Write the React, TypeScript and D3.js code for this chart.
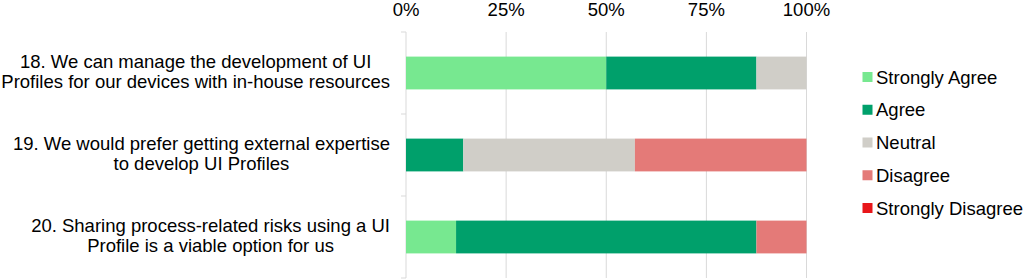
import React, { useMemo } from "react";
import * as d3 from "d3";

const questions: string[][] = [
  ["18. We can manage the development of UI", "Profiles for our devices with in-house resources"],
  ["19. We would prefer getting external expertise", "to develop UI Profiles"],
  ["20. Sharing process-related risks using a UI", "Profile is a viable option for us"],
];
const seriesNames = ["Strongly Agree", "Agree", "Neutral", "Disagree", "Strongly Disagree"];
const stronglyAgree = [50, 0, 12.5];
const agree = [37.5, 14.3, 75];
const neutral = [12.5, 42.85, 0];
const disagree = [0, 42.85, 12.5];
const stronglyDisagree = [0, 0, 0];
const tickValues = [0, 0.25, 0.5, 0.75, 1];
const colors = ["#77E890", "#00A06B", "#D0CEC8", "#E47A78", "#E8161A"];

const W = 1026;
const H = 280;
const FONT = "Arial, 'Liberation Sans', sans-serif";
const FS = 18.5;

function measure(text: string): number {
  const c = document.createElement("canvas");
  const ctx = c.getContext("2d")!;
  ctx.font = `${FS}px Arial, 'Liberation Sans', sans-serif`;
  return ctx.measureText(text).width;
}

export default function App() {
  const x = d3.scaleLinear().domain([0, 1]).range([406, 806.5]);
  const y = d3.scaleBand<number>().domain([0, 1, 2]).range([32, 278]).padding(0);
  const barH = y.bandwidth() * 0.4;

  const rows = questions.map((_, i) => {
    const vals = [stronglyAgree[i], agree[i], neutral[i], disagree[i], stronglyDisagree[i]];
    const total = d3.sum(vals);
    let acc = 0;
    return vals.map((v, k) => {
      const s = acc / total;
      acc += v;
      return { k, s, e: acc / total };
    });
  });

  const labelRight = 390;
  const widths = useMemo(() => questions.map((ls) => d3.max(ls, (l) => measure(l)) || 0), []);

  const legendY = d3.scalePoint<number>().domain([0, 1, 2, 3, 4]).range([77, 208]);

  return (
    <svg width={W} height={H} style={{ position: "absolute", left: 0, top: 0, background: "#fff" }} fontFamily={FONT}>
      {tickValues.map((t) => (
        <line key={t} x1={x(t)} x2={x(t)} y1={32} y2={278} stroke="#d9d9d9" strokeWidth={1} />
      ))}
      {[0, 1, 2, 3].map((i) => {
        const yy = i < 3 ? y(i)! : y(2)! + y.bandwidth();
        return <line key={i} x1={401} x2={406} y1={yy} y2={yy} stroke="#d9d9d9" />;
      })}
      {tickValues.map((t) => (
        <text key={t} x={x(t)} y={16} textAnchor="middle" fontSize={FS} fill="#000">
          {d3.format(".0%")(t)}
        </text>
      ))}
      {rows.map((segs, i) => {
        const cy = y(i)! + y.bandwidth() / 2;
        return segs.map((sg) =>
          sg.e > sg.s ? (
            <rect
              key={`${i}-${sg.k}`}
              x={x(sg.s)}
              width={x(sg.e) - x(sg.s)}
              y={cy - barH / 2}
              height={barH}
              fill={colors[sg.k]}
            />
          ) : null
        );
      })}
      {questions.map((lines, i) => {
        const cy = y(i)! + y.bandwidth() / 2;
        const cx = labelRight - widths[i] / 2;
        return lines.map((l, j) => (
          <text key={`${i}-${j}`} x={cx} y={cy - 5 + j * 20} textAnchor="middle" fontSize={FS} fill="#000">
            {l}
          </text>
        ));
      })}
      {seriesNames.map((n, k) => {
        const ly = legendY(k)!;
        return (
          <g key={n}>
            <rect x={862.5} y={ly - 5} width={10} height={10} fill={colors[k]} />
            <text x={876} y={ly + 6.5} fontSize={FS} fill="#000">
              {n}
            </text>
          </g>
        );
      })}
    </svg>
  );
}
